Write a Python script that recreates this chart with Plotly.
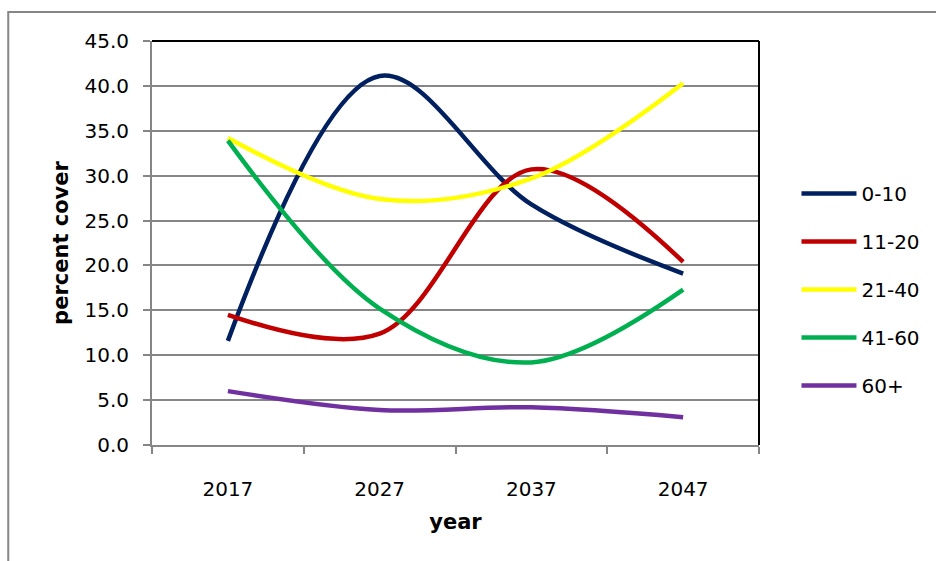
import plotly.graph_objects as go

years = ["2017", "2027", "2037", "2047"]
series_names = ["0-10", "11-20", "21-40", "41-60", "60+"]
s_0_10 = [11.6, 41.1, 26.8, 19.1]
s_11_20 = [14.5, 12.4, 30.7, 20.4]
s_21_40 = [34.2, 27.4, 29.7, 40.3]
s_41_60 = [33.9, 15.2, 9.2, 17.3]
s_60p = [6.0, 3.9, 4.2, 3.1]
colors = ["#002060", "#C00000", "#FFFF00", "#00B050", "#7030A0"]
y_ticks = [0, 5, 10, 15, 20, 25, 30, 35, 40, 45]

FONT = "DejaVu Sans"
fig = go.Figure()
for i, (name, vals) in enumerate(zip(series_names, [s_0_10, s_11_20, s_21_40, s_41_60, s_60p])):
    fig.add_trace(go.Scatter(
        x=years, y=vals, name=name, mode="lines",
        line=dict(color=colors[i], width=4.5, shape="spline", smoothing=1.0),
        legendgroup=name,
    ))

fig.update_layout(
    width=936, height=561,
    margin=dict(l=152, r=176, t=41, b=116),
    paper_bgcolor="white", plot_bgcolor="white",
    font=dict(family=FONT, size=20, color="black"),
    showlegend=True,
    legend=dict(x=1.06, y=(445 - 290) / 403, xanchor="left", yanchor="middle",
                font=dict(family=FONT, size=20), tracegroupgap=19,
                itemwidth=55, bgcolor="rgba(0,0,0,0)"),
    xaxis=dict(type="category", range=[-0.5, 3.5], showgrid=False, showline=True,
               linecolor="#868686", linewidth=2,
               ticks="outside", tickson="boundaries", ticklen=7, tickcolor="#868686", tickwidth=2,
               title=dict(text="<b>year</b>", font=dict(size=21), standoff=14),
               ticklabelstandoff=25),
    yaxis=dict(range=[0, 45], tickvals=y_ticks, tickformat=".1f", showgrid=True,
               gridcolor="#868686", gridwidth=2, showline=True, linecolor="#868686", linewidth=2,
               ticks="outside", ticklen=7, tickcolor="#868686", tickwidth=2, zeroline=False,
               ticklabelstandoff=10,
               title=dict(text="<b>percent cover</b>", font=dict(size=21), standoff=10)),
)
# plot area border top/right (black) and chart area border (grey)
fig.add_shape(type="line", xref="paper", yref="paper", x0=0, x1=1, y0=1, y1=1,
              line=dict(color="black", width=2))
fig.add_shape(type="line", xref="paper", yref="paper", x0=1, x1=1, y0=0, y1=1,
              line=dict(color="black", width=2))
fig.add_shape(type="rect", xref="paper", yref="paper",
              x0=(8 - 152) / 608, x1=(945 - 152) / 608, y0=(445 - 570) / 403, y1=(445 - 13) / 403,
              line=dict(color="#868686", width=2), layer="below")

fig.write_html("out.html")
